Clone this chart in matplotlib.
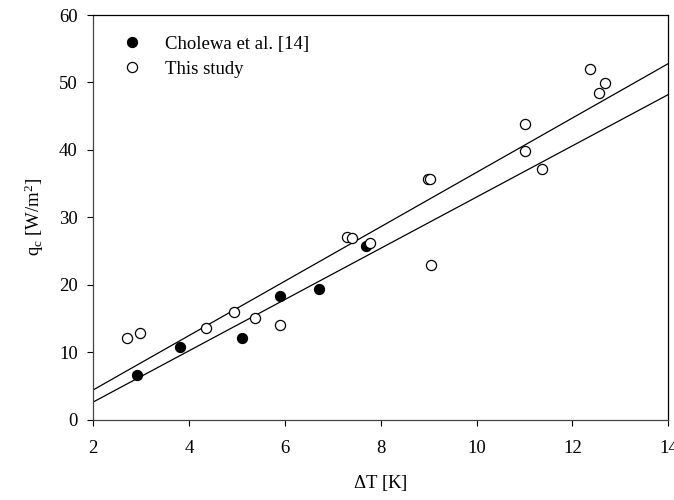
import matplotlib
matplotlib.use("Agg")
import matplotlib.pyplot as plt
import numpy as np

plt.rcParams['font.family'] = ['Liberation Serif', 'DejaVu Serif']
plt.rcParams['mathtext.fontset'] = 'custom'
plt.rcParams['mathtext.rm'] = 'Liberation Serif'
plt.rcParams['mathtext.it'] = 'Liberation Serif:italic'

# Cholewa et al. [14] (filled)
chol_dT = [2.91, 3.80, 5.10, 5.90, 6.71, 7.69]
chol_q = [6.6, 10.7, 12.1, 18.3, 19.4, 25.8]

# This study (open)
study_dT = [2.70, 2.98, 4.35, 4.94, 5.38, 5.90, 7.29, 7.39, 7.78,
            8.98, 9.02, 9.04, 11.00, 11.01, 11.36, 12.37, 12.55, 12.67]
study_q = [12.1, 12.9, 13.5, 16.0, 15.0, 14.0, 27.1, 26.9, 26.2,
           35.6, 35.7, 22.9, 43.9, 39.9, 37.2, 52.0, 48.5, 49.9]

# Two linear correlations: q = slope * dT + intercept
line_slopes = [4.033, 3.80]
line_intercepts = [-3.67, -5.0]

x_ticks = [2, 4, 6, 8, 10, 12, 14]
y_ticks = [0, 10, 20, 30, 40, 50, 60]

fig = plt.figure(figsize=(6.74, 5.0), dpi=100)
ax = fig.add_axes([93.3 / 674, 80.5 / 500, (668.3 - 93.3) / 674, (419.5 - 15) / 500])

xl = np.array([2.0, 14.0])
for s, b in zip(line_slopes, line_intercepts):
    ax.plot(xl, s * xl + b, color='black', lw=0.9, zorder=2)

ax.plot(chol_dT, chol_q, 'o', ms=7.3, mfc='black', mec='black', mew=0.8,
        label='Cholewa et al. [14]', zorder=3, clip_on=False)
ax.plot(study_dT, study_q, 'o', ms=7.3, mfc='white', mec='black', mew=0.9,
        label='This study', zorder=3, clip_on=False)

ax.set_xlim(2, 14)
ax.set_ylim(0, 60)
ax.set_xticks(x_ticks)
ax.set_yticks(y_ticks)
ax.tick_params(direction='out', length=4, width=0.8, labelsize=13.5)
ax.tick_params(axis='x', pad=10.7)
ax.tick_params(axis='y', pad=7.2)
for sp in ax.spines.values():
    sp.set_linewidth(0.9)
ax.spines['left'].set_color('#444444')
ax.spines['bottom'].set_color('#444444')

ax.set_xlabel(r'$\Delta$T [K]', fontsize=13.5, labelpad=11.9)
ax.set_ylabel(r'q$_\mathrm{c}$ [W/m$^\mathrm{2}$]', fontsize=13.5, labelpad=9.2)

ax.legend(loc='upper left', bbox_to_anchor=(0.0287, 0.982), frameon=False,
          fontsize=13.5, handlelength=1.0, handletextpad=1.26,
          labelspacing=0.43, borderaxespad=0.3, numpoints=1)

fig.savefig('out.png', dpi=100)
